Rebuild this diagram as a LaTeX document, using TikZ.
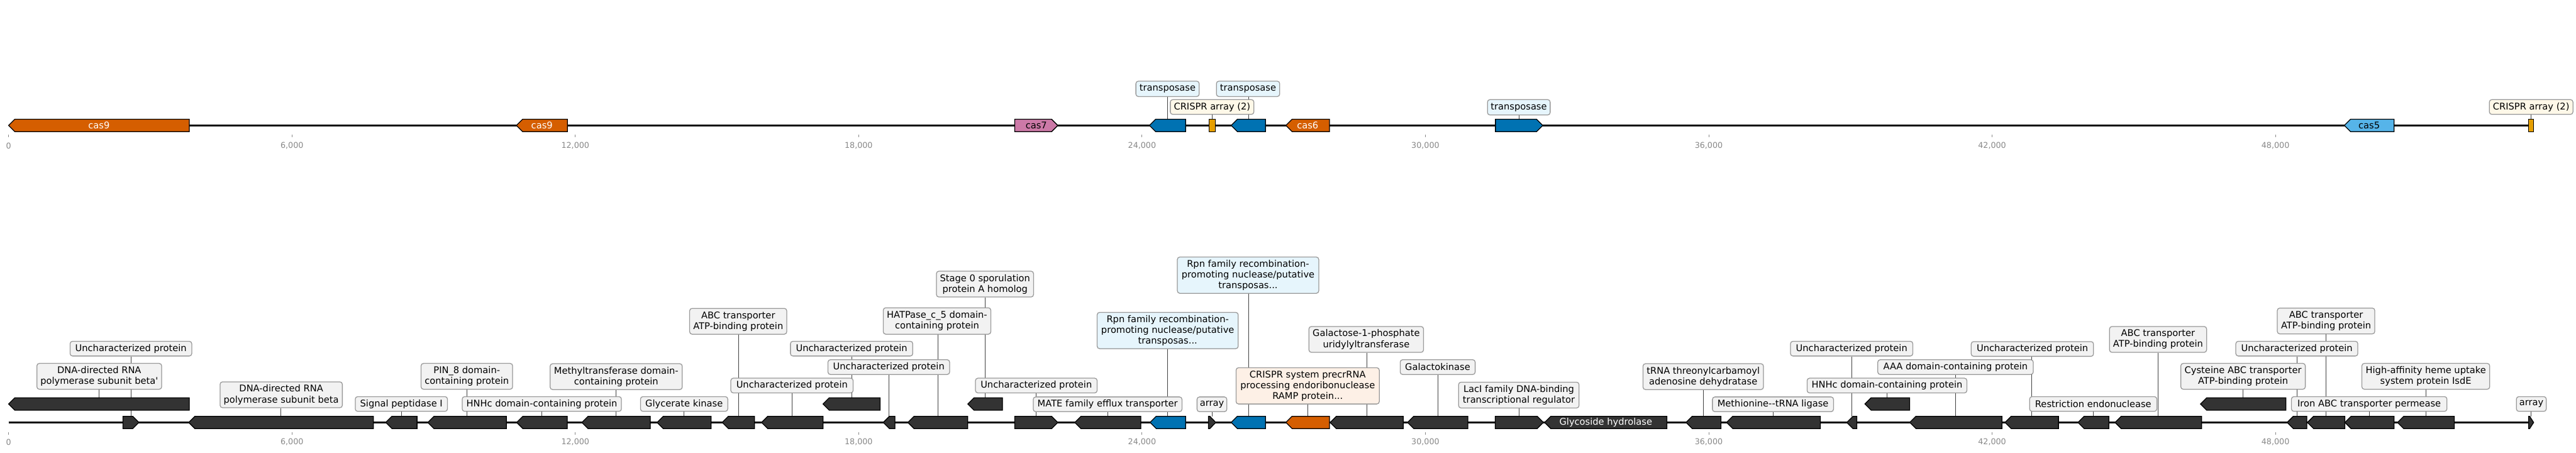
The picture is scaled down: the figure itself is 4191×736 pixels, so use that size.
\documentclass[tikz,border=0pt]{standalone}
\usepackage{fontspec}
\newfontfamily\dv{DejaVu Sans}
\pgfdeclarelayer{bg}
\pgfsetlayers{bg,main}
\definecolor{casorange}{HTML}{D55E00}
\definecolor{caspink}{HTML}{CC79A7}
\definecolor{tblue}{HTML}{0072B2}
\definecolor{casfive}{HTML}{56B4E9}
\definecolor{arrayc}{HTML}{E69F00}
\definecolor{genegray}{HTML}{333333}
\definecolor{boxfill}{HTML}{F2F2F2}
\definecolor{boxblue}{HTML}{E6F5FC}
\definecolor{boxcream}{HTML}{FEF8E8}
\definecolor{boxorange}{HTML}{FDF0E6}
\definecolor{boxline}{HTML}{999999}
\definecolor{tickc}{HTML}{888888}
\tikzset{
  gene/.style={draw=black, line width=1.3pt, line join=miter},
  track/.style={draw=black, line width=3pt},
  lead/.style={draw=black!75, line width=1pt},
  lbl/.style={draw=boxline, line width=1.3pt, rounded corners=4pt, fill=boxfill,
    font=\dv\fontsize{15}{17.5}\selectfont, align=center, inner sep=0pt},
  genetxt/.style={font=\dv\fontsize{15}{17.5}\selectfont, inner sep=0pt},
  tickmark/.style={draw=tickc, line width=1pt},
  ticklbl/.style={font=\dv\fontsize{13}{15}\selectfont, text=tickc, inner sep=0pt}
}
\newcommand\geneL[5]{%
  \pgfmathsetmacro\hd{min(10,0.8*(#3-#2))}%
  \draw[gene,fill=#5] (#2,#4) -- ({#2+\hd},{#4-10}) -- (#3,{#4-10}) -- (#3,{#4+10}) -- ({#2+\hd},{#4+10}) -- cycle;
  \coordinate (#1) at ({(#2+#3)/2},{#4-10});}
\newcommand\geneR[5]{%
  \pgfmathsetmacro\hd{min(10,0.8*(#3-#2))}%
  \draw[gene,fill=#5] (#3,#4) -- ({#3-\hd},{#4-10}) -- (#2,{#4-10}) -- (#2,{#4+10}) -- ({#3-\hd},{#4+10}) -- cycle;
  \coordinate (#1) at ({(#2+#3)/2},{#4-10});}
\newcommand\geneB[5]{%
  \draw[gene,fill=#5] (#2,{#4-10}) rectangle (#3,{#4+10});
  \coordinate (#1) at ({(#2+#3)/2},{#4-10});}
\newcommand\lab[7]{%
  \node[lbl, fill=#6, minimum width=#4pt, minimum height=#5pt] (#1) at (#2,#3) {#7};}
\begin{document}
\begin{tikzpicture}[x=1pt,y=-1pt]
\useasboundingbox (0,0) rectangle (4191,736);

% ---------- top track ----------
\coordinate (topL) at (14,204);
\coordinate (topR) at (4118,204);
\geneL{c9a}{14}{308}{204}{casorange}
\node[genetxt, text=white] (c9at) at (161,204) {cas9};
\geneL{c9b}{840.2}{923.2}{204}{casorange}
\node[genetxt, text=white] (c9bt) at (881.7,204) {cas9};
\geneR{c7}{1651}{1721}{204}{caspink}
\node[genetxt] (c7t) at (1686,204) {cas7};
\geneL{t1}{1870}{1929}{204}{tblue}
\geneB{a1}{1967}{1977}{204}{arrayc}
\geneL{t2}{2003}{2059}{204}{tblue}
\geneL{c6}{2092}{2163}{204}{casorange}
\node[genetxt, text=white] (c6t) at (2127.5,204) {cas6};
\geneR{t3}{2433}{2510}{204}{tblue}
\geneL{c5}{3814}{3895}{204}{casfive}
\node[genetxt] (c5t) at (3854.5,204) {cas5};
\geneB{a2}{4114}{4122}{204}{arrayc}

\lab{lt1}{1899.5}{144.5}{103}{25}{boxblue}{transposase}
\lab{lt2}{2030.5}{144.5}{103}{25}{boxblue}{transposase}
\lab{la1}{1972}{174}{136}{24}{boxcream}{CRISPR array (2)}
\lab{lt3}{2471}{174.5}{102}{25}{boxblue}{transposase}
\lab{la2}{4118}{174}{136}{24}{boxcream}{CRISPR array (2)}

% ---------- bottom track ----------
\coordinate (botL) at (14,687);
\coordinate (botR) at (4122,687);
\geneL{g0}{14}{308}{657}{genegray}
\geneR{g1}{200}{226}{687}{genegray}
\geneL{g2}{307}{607.5}{687}{genegray}
\geneL{g3}{627.6}{678.5}{687}{genegray}
\geneL{g4}{696}{824}{687}{genegray}
\geneL{g5}{840.6}{923}{687}{genegray}
\geneL{g6}{946.7}{1058}{687}{genegray}
\geneL{g7}{1069}{1157}{687}{genegray}
\geneL{g8}{1175}{1227.5}{687}{genegray}
\geneL{g9}{1239}{1339}{687}{genegray}
\geneL{g10}{1339}{1432}{657}{genegray}
\geneL{g11}{1437}{1456}{687}{genegray}
\geneL{g12}{1477}{1574.5}{687}{genegray}
\geneL{g13}{1574.5}{1631}{657}{genegray}
\geneR{g14}{1651}{1721}{687}{genegray}
\geneL{g15}{1748.6}{1856}{687}{genegray}
\geneL{g16}{1871}{1929}{687}{tblue}
\geneR{g17}{1966}{1978}{687}{genegray}
\geneL{g18}{2003}{2059}{687}{tblue}
\geneL{g19}{2092}{2163}{687}{casorange}
\geneL{g20}{2164}{2283}{687}{genegray}
\geneL{g21}{2290}{2388}{687}{genegray}
\geneR{g22}{2432.7}{2511}{687}{genegray}
\geneL{g23}{2513}{2712}{687}{genegray}
\node[genetxt, text=white] (g23t) at (2612.5,687) {Glycoside hydrolase};
\geneL{g24}{2743}{2800}{687}{genegray}
\geneL{g25}{2809}{2961.5}{687}{genegray}
\geneL{g26}{3004.6}{3021}{687}{genegray}
\geneL{g27}{3034}{3107}{657}{genegray}
\geneL{g28}{3107}{3257}{687}{genegray}
\geneL{g29}{3262}{3349}{687}{genegray}
\geneL{g30}{3380.7}{3431}{687}{genegray}
\geneL{g31}{3441}{3582}{687}{genegray}
\geneL{g32}{3580}{3719}{657}{genegray}
\geneL{g33}{3721}{3753}{687}{genegray}
\geneL{g34}{3754}{3815}{687}{genegray}
\geneL{g35}{3815}{3895}{687}{genegray}
\geneL{g36}{3900.6}{3993}{687}{genegray}
\geneR{g37}{4114}{4122}{687}{genegray}

\lab{l0}{161.5}{612}{203}{42}{boxfill}{DNA-directed RNA\\polymerase subunit beta'}
\lab{l1}{213}{567}{198}{24}{boxfill}{Uncharacterized protein}
\lab{l2}{457.5}{642}{199}{42}{boxfill}{DNA-directed RNA\\polymerase subunit beta}
\lab{l3}{653}{657}{150}{24}{boxfill}{Signal peptidase I}
\lab{l4}{759.5}{612}{149}{42}{boxfill}{PIN\_8 domain-\\containing protein}
\lab{l5}{881.5}{657}{259}{24}{boxfill}{HNHc domain-containing protein}
\lab{l6}{1002.5}{612.5}{215}{42}{boxfill}{Methyltransferase domain-\\containing protein}
\lab{l7}{1113}{657}{142}{24}{boxfill}{Glycerate kinase}
\lab{l8}{1201}{522.5}{158}{42}{boxfill}{ABC transporter\\ATP-binding protein}
\lab{l9}{1288.5}{627}{199}{24}{boxfill}{Uncharacterized protein}
\lab{l10}{1385.5}{567}{199}{24}{boxfill}{Uncharacterized protein}
\lab{l11}{1446}{597}{198}{24}{boxfill}{Uncharacterized protein}
\lab{l12}{1524.5}{522}{175}{43}{boxfill}{HATPase\_c\_5 domain-\\containing protein}
\lab{l13}{1602.5}{462}{158}{42}{boxfill}{Stage 0 sporulation\\protein A homolog}
\lab{l14}{1686}{627}{198}{24}{boxfill}{Uncharacterized protein}
\lab{l15}{1802}{657.5}{242}{24}{boxfill}{MATE family efflux transporter}
\lab{l16}{1899.75}{537.5}{229.5}{59}{boxblue}{Rpn family recombination-\\promoting nuclease/putative\\transposas...}
\lab{l17}{1971.75}{657.5}{48.5}{24}{boxfill}{array}
\lab{l18}{2030.5}{447.5}{230}{59}{boxblue}{Rpn family recombination-\\promoting nuclease/putative\\transposas...}
\lab{l19}{2127.5}{627.5}{233}{59}{boxorange}{CRISPR system precrRNA\\processing endoribonuclease\\RAMP protein...}
\lab{l20}{2222.75}{552}{186.5}{42}{boxfill}{Galactose-1-phosphate\\uridylyltransferase}
\lab{l21}{2339}{597}{122}{24}{boxfill}{Galactokinase}
\lab{l22}{2471}{642.5}{196}{42}{boxfill}{LacI family DNA-binding\\transcriptional regulator}
\lab{l24}{2771}{612.5}{196}{42}{boxfill}{tRNA threonylcarbamoyl\\adenosine dehydratase}
\lab{l25}{2884.5}{657.5}{197}{24}{boxfill}{Methionine--tRNA ligase}
\lab{l26}{3012.5}{567}{199}{24}{boxfill}{Uncharacterized protein}
\lab{l27}{3070}{627}{260}{24}{boxfill}{HNHc domain-containing protein}
\lab{l28}{3181.5}{597}{253}{24}{boxfill}{AAA domain-containing protein}
\lab{l29}{3306.5}{567.5}{199}{24}{boxfill}{Uncharacterized protein}
\lab{l30}{3405.5}{657}{207}{24}{boxfill}{Restriction endonuclease}
\lab{l31}{3511}{552}{158}{42}{boxfill}{ABC transporter\\ATP-binding protein}
\lab{l32}{3649.3}{612}{202.6}{42}{boxfill}{Cysteine ABC transporter\\ATP-binding protein}
\lab{l33}{3736.75}{567}{198.5}{24}{boxfill}{Uncharacterized protein}
\lab{l34}{3784.3}{522}{158.6}{42}{boxfill}{ABC transporter\\ATP-binding protein}
\lab{l35}{3854.5}{657}{253}{24}{boxfill}{Iron ABC transporter permease}
\lab{l36}{3946.6}{612}{208}{42}{boxfill}{High-affinity heme uptake\\system protein IsdE}
\lab{l37}{4118.3}{657}{48.6}{24}{boxfill}{array}

% ---------- ticks ----------
\foreach \k/\t in {0/0,1/{6,000},2/{12,000},3/{18,000},4/{24,000},5/{30,000},6/{36,000},7/{42,000},8/{48,000}}{
  \draw[tickmark] ({14+461*\k},219) -- ({14+461*\k},223);
  \node[ticklbl] (ta\k) at ({14+461*\k},237) {\t};
  \draw[tickmark] ({14+461*\k},703) -- ({14+461*\k},707);
  \node[ticklbl] (tb\k) at ({14+461*\k},719) {\t};
}

% ---------- background: track lines and leaders ----------
\begin{pgfonlayer}{bg}
  \fill[white] (0,0) rectangle (4191,736);
  \draw[track] (topL) -- (topR);
  \draw[track] (botL) -- (botR);
  \draw[lead] (t1 |- lt1.south) -- (t1);
  \draw[lead] (t2 |- lt2.south) -- (t2);
  \draw[lead] (a1 |- la1.south) -- (a1);
  \draw[lead] (t3 |- lt3.south) -- (t3);
  \draw[lead] (a2 |- la2.south) -- (a2);
  \foreach \n in {0,1,2,3,4,5,6,7,8,9,10,11,12,13,14,15,16,17,18,19,20,21,22,24,25,26,27,28,29,30,31,32,33,34,35,36,37}{
    \draw[lead] (g\n |- l\n.south) -- (g\n);
  }
\end{pgfonlayer}
\end{tikzpicture}
\end{document}
